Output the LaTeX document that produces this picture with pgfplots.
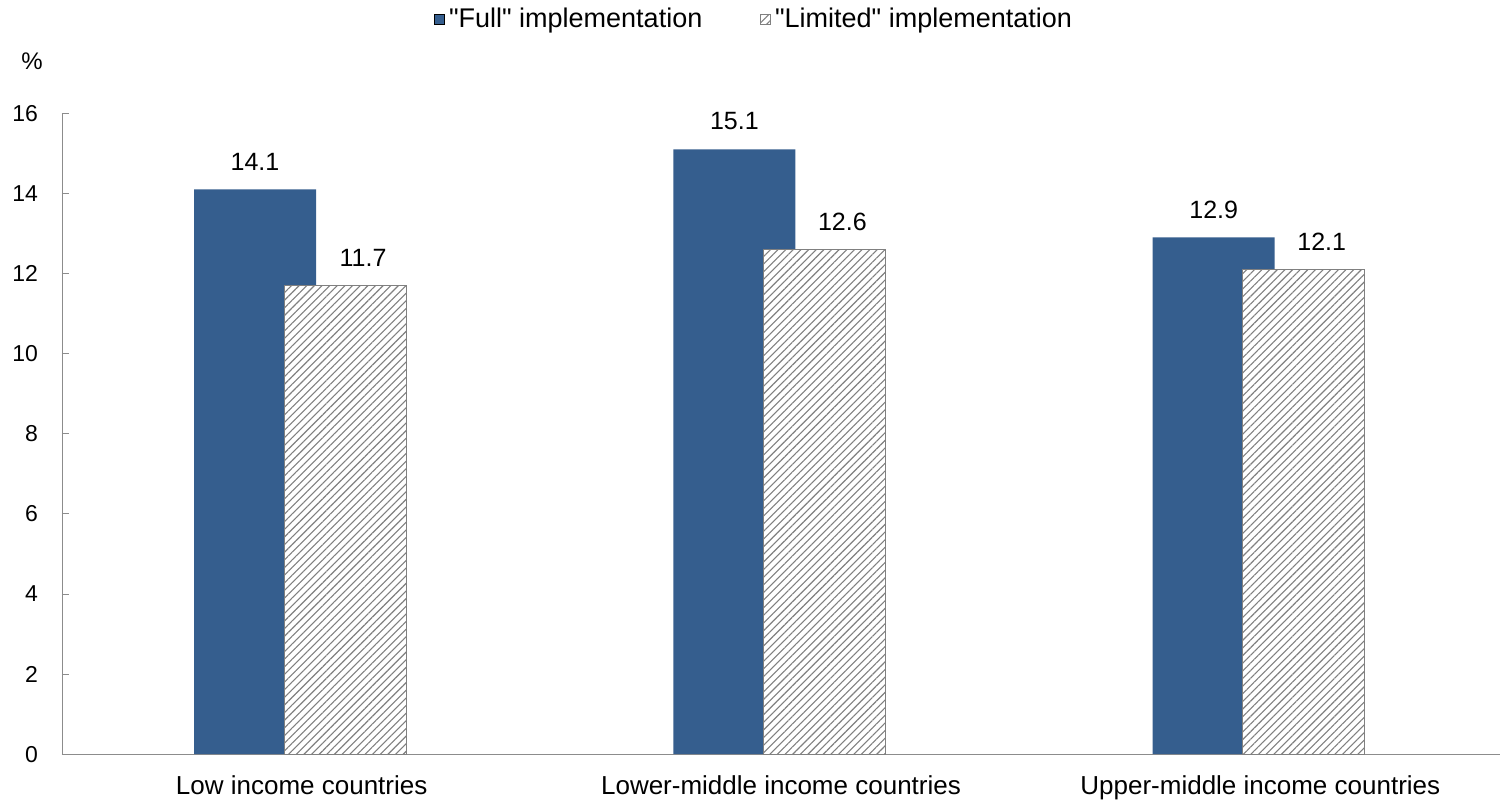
\documentclass[border=0pt]{standalone}
\usepackage{pgfplots}
\pgfplotsset{compat=1.18}
\usetikzlibrary{patterns.meta}
\usepackage{fontspec}
\setmainfont{Liberation Sans}[Ligatures=TeXOff]
\definecolor{fullblue}{HTML}{355E8E}
\definecolor{axisgray}{HTML}{8C8C8C}

\begin{document}
\begin{tikzpicture}
\begin{axis}[
    scale only axis,
    width=719pt, height=320.5pt,
    clip=false,
    xmin=0, xmax=3,
    ymin=0, ymax=16,
    ytick distance=2,
    xtick={0.5,1.5,2.5},
    xticklabels={Low income countries, Lower-middle income countries, Upper-middle income countries},
    x tick style={draw=none},
    y tick style={axisgray, thin},
    major tick length=3.5pt,
    tick align=inside,
    axis x line*=bottom,
    axis y line*=left,
    axis line style={axisgray, thin, -},
    yticklabel style={font=\fontsize{11.5}{14}\selectfont, xshift=-8.5pt},
    xticklabel style={font=\fontsize{13}{15}\selectfont, yshift=-3.5pt},
    /pgf/number format/assume math mode=true,
    ybar, bar shift=0pt,
    legend columns=2,
    legend style={draw=none, at={(0.482,1.1466)}, anchor=center,
      font=\fontsize{13.5}{15}\selectfont,
      /tikz/every even column/.append style={column sep=27pt}},
    legend image code/.code={\draw[#1] (0pt,-2.5pt) rectangle (5pt,2.5pt);},
    nodes near coords={\pgfmathprintnumber[fixed,fixed zerofill,precision=1,assume math mode=true]{\pgfplotspointmeta}},
    every node near coord/.append style={font=\fontsize{12.5}{14}\selectfont, yshift=6pt},
  ]
  \addplot[fill=fullblue, draw=none, bar width=0.2545] coordinates {
    (0.4027,14.1) (1.4027,15.1) (2.4027,12.9)
  };
  \addlegendentry{"Full" implementation}
  \addplot[fill=white, draw=gray,
    postaction={pattern={Lines[angle=45, distance=2.7pt, line width=0.55pt]}, pattern color=gray},
    bar width=0.2545,
    every node near coord/.append style={xshift=9pt}] coordinates {
    (0.5905,11.7) (1.5905,12.6) (2.5905,12.1)
  };
  \addlegendentry{"Limited" implementation}
  \node[font=\fontsize{12}{14}\selectfont] at ([xshift=-15pt,yshift=26pt]rel axis cs:0,1) {\%};
  \path ([xshift=-31pt,yshift=-23pt]rel axis cs:0,0) rectangle ([xshift=2pt,yshift=56pt]rel axis cs:1,1);
\end{axis}
\end{tikzpicture}
\end{document}
